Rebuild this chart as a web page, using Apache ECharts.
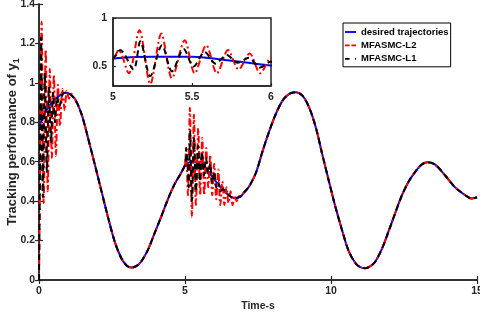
<!DOCTYPE html>
<html>
<head>
<meta charset="utf-8">
<script src="https://cdn.jsdelivr.net/npm/echarts@6/dist/echarts.min.js"></script>
<style>html,body{margin:0;padding:0;background:#fff;}#c{width:480px;height:320px;}</style>
</head>
<body>
<div id="c"></div>
<script>
// ---- data ----
const seriesNames = ['desired trajectories', 'MFASMC-L2', 'MFASMC-L1'];
const xTicks = [0, 5, 10, 15];
const yTicks = [0, 0.2, 0.4, 0.6, 0.8, 1, 1.2, 1.4];
const insetXTicks = [5, 5.5, 6];
const insetYTicks = [0.5, 1];
const insetYRange = [0.3, 1];

const tDesired = [0, 0.25, 0.5, 0.75, 0.89, 1.0, 1.23, 1.46, 1.68, 1.91, 2.14, 2.37, 2.59, 2.82, 3.0, 3.16, 3.33, 3.5, 3.73, 3.96, 4.19, 4.41, 4.64, 4.87, 5.04, 5.25, 5.5, 5.75, 6.0, 6.25, 6.5, 6.7, 6.9, 7.0, 7.2, 7.43, 7.66, 7.89, 8.11, 8.34, 8.57, 8.79, 9.02, 9.25, 9.48, 9.7, 9.93, 10.16, 10.39, 10.61, 10.84, 11.0, 11.18, 11.35, 11.52, 11.75, 11.98, 12.2, 12.43, 12.66, 12.89, 13.1, 13.3, 13.57, 13.91, 14.25, 14.6, 14.82, 15.0];
const yDesired = [0.78, 0.86, 0.91, 0.94, 0.95, 0.948, 0.918, 0.84, 0.72, 0.587, 0.45, 0.315, 0.196, 0.11, 0.074, 0.063, 0.07, 0.094, 0.153, 0.238, 0.323, 0.408, 0.485, 0.544, 0.587, 0.60, 0.60, 0.56, 0.51, 0.465, 0.43, 0.415, 0.423, 0.44, 0.476, 0.544, 0.655, 0.757, 0.842, 0.91, 0.944, 0.952, 0.935, 0.876, 0.774, 0.638, 0.50, 0.366, 0.247, 0.145, 0.085, 0.065, 0.06, 0.07, 0.094, 0.16, 0.25, 0.34, 0.43, 0.50, 0.55, 0.585, 0.597, 0.585, 0.53, 0.47, 0.43, 0.413, 0.42];

// MFASMC-L2 transients
const tL2Start = [0, 0.04, 0.09, 0.16, 0.23, 0.30, 0.37, 0.44, 0.51, 0.58, 0.65, 0.72, 0.80, 0.88, 0.95, 1.03, 1.10];
const yL2Start = [0, 0.6, 1.31, 0.39, 1.17, 0.45, 1.07, 0.62, 1.04, 0.63, 0.99, 0.78, 0.97, 0.86, 0.96, 0.92, 0.945];
const tL2Mid = [5.0, 5.036, 5.10, 5.167, 5.236, 5.306, 5.373, 5.454, 5.517, 5.59, 5.658, 5.728, 5.795, 5.865, 5.932, 6.0, 6.07, 6.14, 6.21, 6.28, 6.35, 6.42, 6.49, 6.56, 6.63, 6.70, 6.77, 6.85, 6.95];
const yL2Mid = [0.585, 0.67, 0.43, 0.874, 0.32, 0.84, 0.38, 0.77, 0.43, 0.72, 0.43, 0.67, 0.47, 0.635, 0.43, 0.59, 0.41, 0.56, 0.38, 0.50, 0.38, 0.47, 0.39, 0.45, 0.38, 0.43, 0.40, 0.425, 0.43];

// MFASMC-L1 transients
const tL1Start = [0, 0.03, 0.07, 0.13, 0.20, 0.27, 0.34, 0.41, 0.48, 0.55, 0.62, 0.70, 0.80];
const yL1Start = [0, 0.5, 1.23, 0.42, 1.05, 0.55, 0.98, 0.70, 0.95, 0.80, 0.93, 0.88, 0.94];
const tL1Mid = [5.0, 5.046, 5.13, 5.173, 5.236, 5.31, 5.373, 5.447, 5.51, 5.58, 5.65, 5.72, 5.79, 5.86, 5.93, 6.0, 6.07, 6.14, 6.21, 6.3];
const yL1Mid = [0.585, 0.67, 0.47, 0.76, 0.40, 0.72, 0.45, 0.68, 0.50, 0.65, 0.53, 0.62, 0.54, 0.59, 0.49, 0.55, 0.47, 0.50, 0.45, 0.46];

// ---- build series data ----
function pairs(ts, ys) { return ts.map((t, i) => [t, ys[i]]); }
const desired = pairs(tDesired, yDesired);
function compose(tA, yA, tB, yB) {
  const lastA = tA[tA.length - 1], firstB = tB[0], lastB = tB[tB.length - 1];
  return [].concat(
    pairs(tA, yA),
    desired.filter(p => p[0] > lastA && p[0] < firstB),
    pairs(tB, yB),
    desired.filter(p => p[0] > lastB)
  );
}
const l2 = compose(tL2Start, yL2Start, tL2Mid, yL2Mid);
const l1 = compose(tL1Start, yL1Start, tL1Mid, yL1Mid);

const FONT = 'Liberation Sans, Arial, Helvetica, sans-serif';
const AX = '#262626';
const labelStyle = { color: AX, fontFamily: FONT, fontWeight: 'bold', fontSize: 10.5 };

const styles = [
  { color: '#0000ff', type: 'solid', icon: 'path://M0,0h12v2h-12z' },
  { color: '#ff0000', type: [7, 3, 2, 3], icon: 'path://M0,0h5v2h-5z M7,0h5v2h-5z' },
  { color: '#000000', type: [6, 4], icon: 'path://M0,0h5v2h-5z M11,0h1v2h-1z' }
];
const datas = [desired, l2, l1];

const series = [];
[0, 1].forEach(gi => {
  datas.forEach((d, i) => {
    series.push({
      name: seriesNames[i], type: 'line', data: d,
      xAxisIndex: gi, yAxisIndex: gi,
      symbol: 'none', showSymbol: false, smooth: 0.3, clip: true,
      lineStyle: { color: styles[i].color, type: styles[i].type, width: 2 },
      itemStyle: { color: styles[i].color },
      z: 3 + i, animation: false
    });
  });
});

const chart = echarts.init(document.getElementById('c'), null, { renderer: 'canvas' });
chart.setOption({
  animation: false,
  backgroundColor: '#fff',
  grid: [
    { left: 39, right: 3, top: 4, bottom: 40, containLabel: false, outerBoundsMode: 'none' },
    { left: 113, right: 209, top: 18, bottom: 234, containLabel: false, outerBoundsMode: 'none', show: true, backgroundColor: '#fff', borderColor: AX, borderWidth: 1.5, z: 1 }
  ],
  legend: {
    data: seriesNames.map((n, i) => ({ name: n, icon: styles[i].icon, itemStyle: { color: styles[i].color } })),
    orient: 'vertical', left: 343, top: 23,
    padding: [3, 2, 2, 2], itemGap: 1.4, itemWidth: 11, itemHeight: 2,
    backgroundColor: '#fff', borderColor: '#000', borderWidth: 1,
    textStyle: { fontFamily: FONT, fontWeight: 'bold', fontSize: 9.5, color: '#000', lineHeight: 12 },
    z: 20
  },
  xAxis: [
    { type: 'value', gridIndex: 0, min: xTicks[0], max: xTicks[xTicks.length - 1], interval: xTicks[1] - xTicks[0],
      name: 'Time-s', nameLocation: 'middle', nameGap: 21, nameMoveOverlap: false,
      nameTextStyle: { color: AX, fontFamily: FONT, fontWeight: 'bold', fontSize: 10.5 },
      axisLine: { lineStyle: { color: AX, width: 1.5 } },
      axisTick: { inside: true, length: 4, lineStyle: { color: AX, width: 1.2 } },
      axisLabel: Object.assign({ margin: 6, hideOverlap: false }, labelStyle),
      splitLine: { show: false } },
    { type: 'value', gridIndex: 1, min: insetXTicks[0], max: insetXTicks[insetXTicks.length - 1], interval: insetXTicks[1] - insetXTicks[0],
      axisLine: { lineStyle: { color: AX, width: 1.5 } },
      axisTick: { inside: true, length: 3, lineStyle: { color: AX, width: 1.2 } },
      axisLabel: Object.assign({ margin: 6 }, labelStyle),
      splitLine: { show: false }, z: 10 },
    { type: 'value', gridIndex: 0, position: 'top', min: xTicks[0], max: xTicks[xTicks.length - 1], interval: xTicks[1] - xTicks[0],
      axisLine: { lineStyle: { color: AX, width: 1.5 } },
      axisTick: { inside: true, length: 4, lineStyle: { color: AX, width: 1.2 } },
      axisLabel: { show: false }, splitLine: { show: false } }
  ],
  yAxis: [
    { type: 'value', gridIndex: 0, min: yTicks[0], max: yTicks[yTicks.length - 1], interval: 0.2,
      name: '{a|Tracking performance of y}{b|1}', nameLocation: 'middle', nameGap: 18, nameMoveOverlap: false,
      nameTextStyle: { color: AX, fontFamily: FONT, fontWeight: 'bold', fontSize: 13,
        rich: { a: { color: AX, fontFamily: FONT, fontWeight: 'bold', fontSize: 13 },
                b: { color: AX, fontFamily: FONT, fontWeight: 'bold', fontSize: 9, padding: [8, 0, 0, 0] } } },
      axisLine: { lineStyle: { color: AX, width: 1.5 } },
      axisTick: { inside: true, length: 4, lineStyle: { color: AX, width: 1.2 } },
      axisLabel: Object.assign({ margin: 4 }, labelStyle),
      splitLine: { show: false } },
    { type: 'value', gridIndex: 1, min: insetYRange[0], max: insetYRange[1],
      axisLine: { lineStyle: { color: AX, width: 1.5 } },
      axisTick: { inside: true, length: 3, customValues: insetYTicks, lineStyle: { color: AX, width: 1.2 } },
      axisLabel: Object.assign({ margin: 6, customValues: insetYTicks }, labelStyle),
      splitLine: { show: false }, z: 10 },
    { type: 'value', gridIndex: 0, position: 'right', min: yTicks[0], max: yTicks[yTicks.length - 1], interval: 0.2,
      axisLine: { lineStyle: { color: AX, width: 1.5 } },
      axisTick: { inside: true, length: 4, lineStyle: { color: AX, width: 1.2 } },
      axisLabel: { show: false }, splitLine: { show: false } }
  ],
  series: series
});
</script>
</body>
</html>
